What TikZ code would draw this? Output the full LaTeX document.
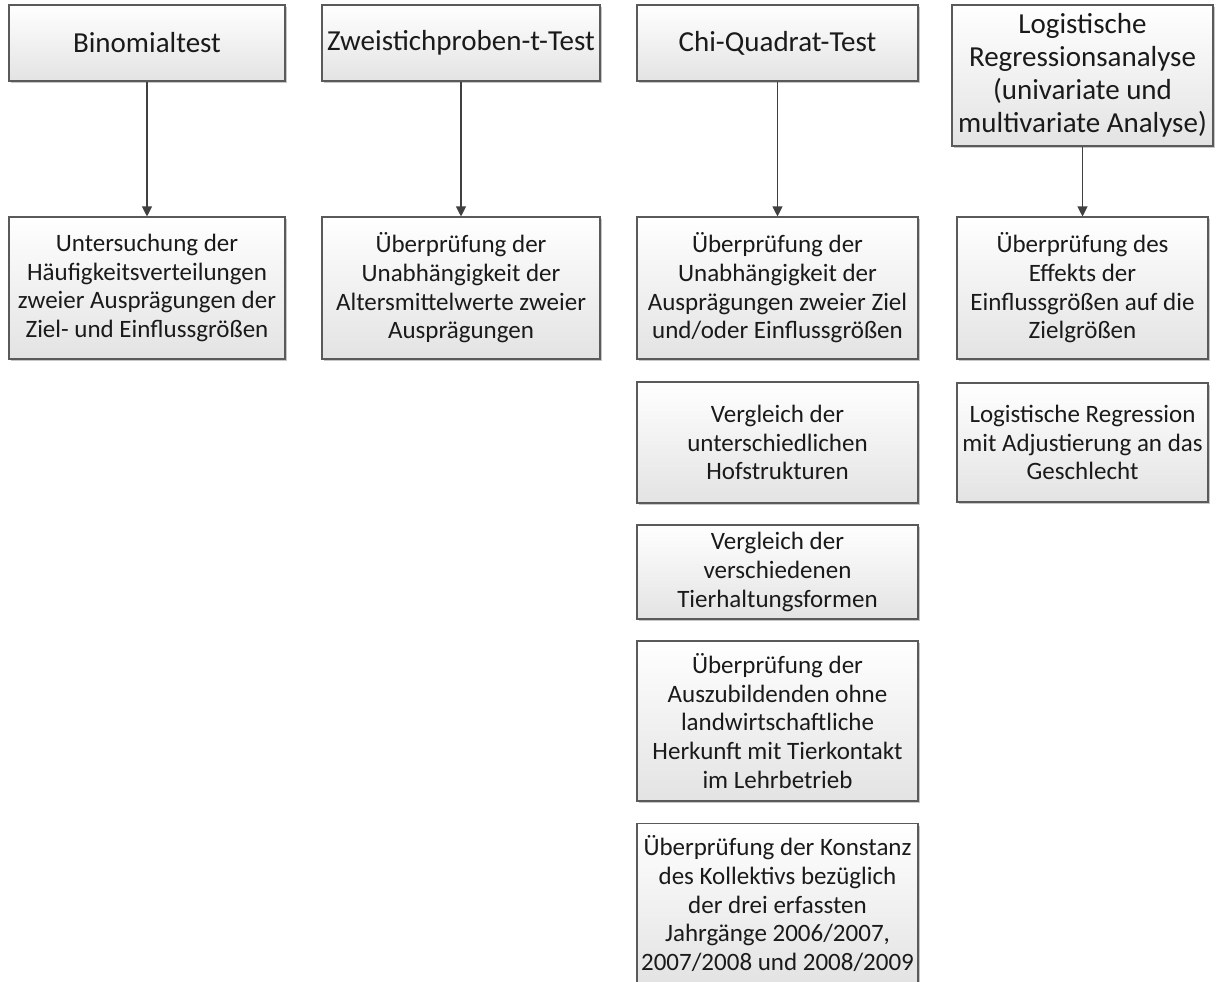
\documentclass[tikz,border=0pt]{standalone}
\usepackage{fontspec}
\setmainfont{Carlito}
\usetikzlibrary{arrows.meta,shadows}
\definecolor{boxline}{HTML}{5A5A5A}
\definecolor{arrowgray}{HTML}{404040}
\definecolor{boxtext}{HTML}{1A1A1A}
\begin{document}
\begin{tikzpicture}[x=1pt,y=-1pt,
    box/.style={draw=boxline, line width=1.1pt, rectangle, align=center, inner sep=2pt, text=boxtext,
        top color=white, bottom color=black!11,
        drop shadow={shadow xshift=2.2pt, shadow yshift=-2.2pt, fill=black!40, opacity=.55},
        font=\fontsize{25}{28.6}\selectfont},
    head/.style={box, font=\fontsize{29}{33}\selectfont},
    arr/.style={-{Triangle[width=10pt,length=10pt]}, draw=arrowgray, line width=1.1pt}]
\useasboundingbox (0,0) rectangle (1216,982);
\node[head, minimum width=276pt, minimum height=76pt] (binom) at (147,43) {Binomialtest};
\node[head, minimum width=278pt, minimum height=76pt] (ttest) at (461,43) {Zweistichproben-t-Test};
\node[head, minimum width=281pt, minimum height=76pt] (chi) at (777.5,43) {Chi-Quadrat-Test};
\node[head, minimum width=261pt, minimum height=141pt] (logreg) at (1082.5,75.5) {Logistische\\Regressionsanalyse\\(univariate und\\multivariate Analyse)};
\node[box, minimum width=276pt, minimum height=142pt] (binomA) at (147,288) {Untersuchung der\\Häufigkeitsverteilungen\\zweier Ausprägungen der\\Ziel- und Einflussgrößen};
\node[box, minimum width=278pt, minimum height=142pt] (ttestA) at (461,288) {Überprüfung der\\Unabhängigkeit der\\Altersmittelwerte zweier\\Ausprägungen};
\node[box, minimum width=281pt, minimum height=142pt] (chiA) at (777.5,288) {Überprüfung der\\Unabhängigkeit der\\Ausprägungen zweier Ziel\\und/oder Einflussgrößen};
\node[box, minimum width=281pt, minimum height=121pt] (chiB) at (777.5,442.5) {Vergleich der\\unterschiedlichen\\Hofstrukturen};
\node[box, minimum width=281pt, minimum height=94pt] (chiC) at (777.5,572) {Vergleich der\\verschiedenen\\Tierhaltungsformen};
\node[box, minimum width=281pt, minimum height=160pt] (chiD) at (777.5,721) {Überprüfung der\\Auszubildenden ohne\\landwirtschaftliche\\Herkunft mit Tierkontakt\\im Lehrbetrieb};
\node[box, minimum width=281pt, minimum height=160pt] (chiE) at (777.5,903.5) {Überprüfung der Konstanz\\des Kollektivs bezüglich\\der drei erfassten\\Jahrgänge 2006/2007,\\2007/2008 und 2008/2009};
\node[box, minimum width=251pt, minimum height=142pt] (logregA) at (1082.5,288) {Überprüfung des\\Effekts der\\Einflussgrößen auf die\\Zielgrößen};
\node[box, minimum width=251pt, minimum height=119pt] (logregB) at (1082.5,442.5) {Logistische Regression\\mit Adjustierung an das\\Geschlecht};
\draw[arr] (binom) -- (binomA);
\draw[arr] (ttest) -- (ttestA);
\draw[arr] (chi) -- (chiA);
\draw[arr] (logreg) -- (logregA);
\end{tikzpicture}
\end{document}
